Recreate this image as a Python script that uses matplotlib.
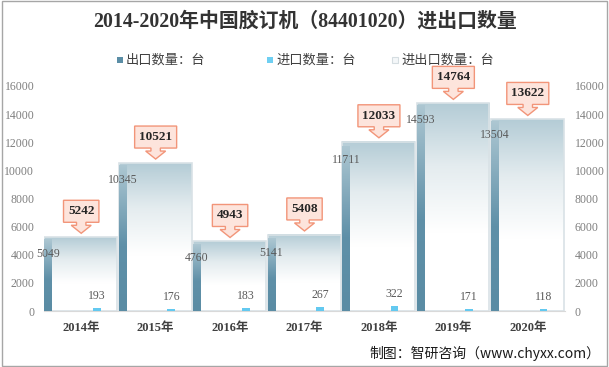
import numpy as np
import matplotlib.pyplot as plt
import matplotlib.transforms as mtransforms
from matplotlib.colors import LinearSegmentedColormap
from matplotlib.patches import Polygon, Rectangle

years = ['2014年', '2015年', '2016年', '2017年', '2018年', '2019年', '2020年']
export_qty = [5049, 10345, 4760, 5141, 11711, 14593, 13504]
import_qty = [193, 176, 183, 267, 322, 171, 118]
total_qty = [5242, 10521, 4943, 5408, 12033, 14764, 13622]

series_names = ['出口数量：台', '进口数量：台', '进出口数量：台']

PX = 0.72  # points per pixel at dpi 100
W, H = 609, 367
serif = 'Liberation Serif'
mixed_font = ['Liberation Serif', 'Noto Sans CJK SC']

fig = plt.figure(figsize=(W / 100, H / 100), dpi=100)
ax = fig.add_axes([44 / W, 1 - 311 / H, 521 / W, 225 / H])
x = np.arange(len(years))

# gradient colour maps (0 = bottom, 1 = top)
tot_cmap = LinearSegmentedColormap.from_list(
    'tot', [(0, '#ffffff'), (0.38, '#ffffff'), (0.7, '#e4ecef'), (1, '#b4ccd6')])
exp_cmap = LinearSegmentedColormap.from_list(
    'exp', [(0, '#5a8ca4'), (0.45, '#5f90a8'), (1, '#adc7d2')])
grad = np.linspace(0, 1, 256).reshape(-1, 1)


def fill_gradient(bars, cmap, z):
    for b in bars:
        ax.imshow(grad, cmap=cmap, origin='lower', aspect='auto', interpolation='bilinear',
                  extent=[b.get_x(), b.get_x() + b.get_width(), 0, b.get_height()], zorder=z)


tot_bars = ax.bar(x - 0.005, total_qty, width=0.98, facecolor='none',
                  edgecolor='#d9e2e6', linewidth=1.2, zorder=2)
fill_gradient(tot_bars, tot_cmap, 1)

exp_bars = ax.bar(x - 0.495, export_qty, width=0.1, align='edge',
                  facecolor='none', edgecolor='none', zorder=3)
fill_gradient(exp_bars, exp_cmap, 3)

ax.bar(x + 0.21, import_qty, width=0.105, color='#63c9f0', zorder=3)

ax.set_xlim(-0.5, 6.5)
ax.set_ylim(0, 16000)

# data labels
for i in range(len(years)):
    ax.annotate(str(export_qty[i]), (x[i] - 0.445, export_qty[i]), xytext=(0, -14 * PX),
                textcoords='offset points', ha='center', va='center',
                fontsize=8.5, family=serif, color='#595959', zorder=6)
    ax.annotate(str(import_qty[i]), (x[i] + 0.21, import_qty[i]), xytext=(0, 12 * PX),
                textcoords='offset points', ha='center', va='center',
                fontsize=8.5, family=serif, color='#595959', zorder=6)

# callouts above the total bars
for i in range(len(years)):
    label = str(total_qty[i])
    w = 9 + 6.6 * len(label)
    verts = np.array([
        (0, 4), (-10, 12), (-4.7, 12), (-4.7, 15), (-w / 2, 15), (-w / 2, 37),
        (w / 2, 37), (w / 2, 15), (4.7, 15), (4.7, 12), (10, 12)]) / 100.0
    trans = fig.dpi_scale_trans + mtransforms.ScaledTranslation(x[i], total_qty[i], ax.transData)
    ax.add_patch(Polygon(verts, closed=True, transform=trans, facecolor='#fde4dc',
                         edgecolor='#f29579', linewidth=1, zorder=7, clip_on=False))
    ax.annotate(label, (x[i], total_qty[i]), xytext=(0, 26 * PX), textcoords='offset points',
                ha='center', va='center', fontsize=9.5, family=serif, weight='bold',
                color='#262626', zorder=8, annotation_clip=False)

# axes styling
for s in ['top', 'left', 'right']:
    ax.spines[s].set_visible(False)
ax.spines['bottom'].set_color('#d9d9d9')
ax.set_yticks(range(0, 16001, 2000))
ax.tick_params(axis='y', length=0, pad=7, labelsize=8.5, labelcolor='#7f7f7f',
               labelfontfamily=serif)
ax.set_xticks(x, years)
ax.tick_params(axis='x', length=0, pad=8)
for lbl in ax.get_xticklabels():
    lbl.set_fontfamily(mixed_font)
    lbl.set_fontsize(9)
    lbl.set_fontweight('bold')
    lbl.set_color('#404040')

ax2 = ax.twinx()
ax2.set_ylim(0, 16000)
ax2.set_yticks(range(0, 16001, 2000))
for s in ax2.spines.values():
    s.set_visible(False)
ax2.tick_params(axis='y', length=0, pad=7, labelsize=8.5, labelcolor='#7f7f7f',
                labelfontfamily=serif)

# title
fig.text(0.5, 1 - 22 / H, '2014-2020年中国胶订机（84401020）进出口数量', ha='center', va='center',
         fontsize=14.3, weight='bold', family=mixed_font, color='#333333')

# legend, laid out item by item like the original
legend_fc = ['#5b8ea6', '#6fcff2', '#f4f7f9']
legend_ec = ['none', 'none', '#d5dde1']
legend_x = [117, 267, 392]
ly = 1 - 60 / H
for lx, fc, ec, name in zip(legend_x, legend_fc, legend_ec, series_names):
    fig.patches.append(Rectangle((lx / W, ly - 3 / H), 6 / W, 6 / H, transform=fig.transFigure,
                                 facecolor=fc, edgecolor=ec, linewidth=0.8))
    fig.text((lx + 9) / W, ly, name, ha='left', va='center', fontsize=9.5,
             family='Noto Sans CJK SC', color='#404040')

fig.text(600 / W, 1 - 353 / H, '制图：智研咨询（www.chyxx.com）', ha='right', va='center',
         fontsize=10, family='Noto Sans CJK SC', color='#1a1a1a')

fig.patches.append(Rectangle((0.003, 0.004), 0.993, 0.992, transform=fig.transFigure,
                             fill=False, edgecolor='#a6a6a6', linewidth=1))

fig.savefig('out.png', dpi=100)
